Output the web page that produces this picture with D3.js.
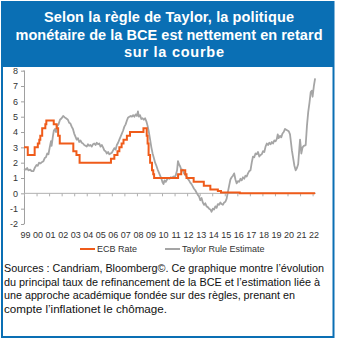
<!DOCTYPE html>
<html><head><meta charset="utf-8">
<script src="https://cdn.jsdelivr.net/npm/d3@7"></script>
<style>
html,body{margin:0;padding:0;background:#fff;}
svg{display:block;font-family:"Liberation Sans",Arial,sans-serif;}
</style></head>
<body>
<svg id="c" width="338" height="343"></svg>
<script>
// ---- data ----
const titleLines = ["Selon la règle de Taylor, la politique","monétaire de la BCE est nettement en retard","sur la courbe"];
const yearTicks = d3.range(1999, 2023);
const yearLabels = ["99","00","01","02","03","04","05","06","07","08","09","10","11","12","13","14","15","16","17","18","19","20","21","22"];
const yTicks = [-2,-1,0,1,2,3,4,5,6,7,8];
const seriesNames = ["ECB Rate","Taylor Rule Estimate"];
// ECB main refinancing rate: [decimal year, rate]
const ecbRate = [
 [1999.0,3.0],[1999.3,2.5],[1999.85,3.0],[2000.1,3.25],[2000.22,3.5],[2000.3,3.75],[2000.45,4.25],[2000.7,4.5],[2000.78,4.75],
 [2001.37,4.5],[2001.6,4.25],[2001.72,3.75],[2001.85,3.25],[2002.93,2.75],[2003.18,2.5],[2003.43,2.0],
 [2005.93,2.25],[2006.2,2.5],[2006.45,2.75],[2006.6,3.0],[2006.78,3.25],[2006.93,3.5],[2007.2,3.75],[2007.45,4.0],
 [2008.52,4.25],[2008.78,3.75],[2008.85,3.25],[2008.93,2.5],[2009.05,2.0],[2009.2,1.5],[2009.3,1.25],[2009.37,1.0],
 [2011.28,1.25],[2011.53,1.5],[2011.85,1.25],[2011.95,1.0],[2012.52,0.75],[2013.33,0.5],[2013.85,0.25],
 [2014.45,0.15],[2014.7,0.05],[2016.2,0.0],[2022.2,0.0]
];
// Taylor rule estimate: [decimal year, rate]
const taylorRule = [
 [1999.0,1.6],[1999.15,1.55],[1999.25,1.65],[1999.35,1.5],[1999.5,1.55],[1999.6,1.45],[1999.75,1.45],[1999.85,1.65],
 [2000.0,1.85],[2000.1,1.8],[2000.2,2.0],[2000.3,1.95],[2000.45,2.05],[2000.55,2.1],[2000.65,2.3],[2000.75,2.35],[2000.85,2.6],[2000.95,2.55],
 [2001.05,3.0],[2001.15,3.4],[2001.2,3.1],[2001.3,3.7],[2001.38,4.1],[2001.47,4.2],[2001.55,4.0],[2001.65,4.4],[2001.75,4.5],[2001.87,4.8],
 [2002.0,4.9],[2002.12,5.05],[2002.25,4.95],[2002.35,4.9],[2002.5,4.8],[2002.6,4.6],[2002.7,4.55],[2002.8,4.35],[2002.9,4.2],
 [2003.0,3.9],[2003.1,3.7],[2003.2,3.5],[2003.3,3.6],[2003.4,3.35],[2003.5,3.45],[2003.6,3.3],[2003.7,3.25],[2003.8,3.15],[2003.9,3.1],
 [2004.0,3.05],[2004.1,3.2],[2004.2,3.1],[2004.3,3.15],[2004.4,3.05],[2004.5,3.2],[2004.6,3.25],[2004.7,3.15],[2004.8,3.3],[2004.9,3.2],
 [2005.0,3.25],[2005.1,3.05],[2005.2,3.15],[2005.3,3.0],[2005.4,2.8],[2005.5,2.75],[2005.6,2.6],[2005.7,2.7],[2005.8,2.55],[2005.9,2.6],
 [2006.0,2.65],[2006.1,2.8],[2006.2,2.95],[2006.3,2.85],[2006.4,3.15],[2006.5,3.3],[2006.6,3.5],[2006.7,3.7],[2006.8,3.9],[2006.9,4.1],
 [2007.0,4.35],[2007.1,4.5],[2007.2,4.75],[2007.3,4.95],[2007.4,5.0],[2007.5,5.05],[2007.6,5.0],[2007.7,5.1],[2007.8,5.0],[2007.9,5.15],
 [2008.0,5.05],[2008.08,5.35],[2008.15,5.0],[2008.25,5.1],[2008.35,4.85],[2008.45,4.9],[2008.55,4.8],[2008.65,4.9],[2008.75,4.7],[2008.85,4.4],[2008.95,4.0],
 [2009.05,3.5],[2009.15,3.0],[2009.25,2.6],[2009.35,2.3],[2009.45,2.0],[2009.55,1.8],[2009.65,1.55],[2009.75,1.35],[2009.85,1.15],[2009.95,0.95],
 [2010.05,0.7],[2010.12,0.6],[2010.2,0.85],[2010.3,0.75],[2010.4,0.9],[2010.5,1.0],[2010.6,0.95],[2010.7,1.05],[2010.8,1.0],[2010.9,1.1],
 [2011.0,1.05],[2011.1,1.2],[2011.2,1.5],[2011.27,2.1],[2011.35,1.9],[2011.45,1.75],[2011.55,1.5],[2011.65,1.55],[2011.75,1.3],[2011.85,1.2],[2011.95,1.1],
 [2012.05,0.95],[2012.15,0.85],[2012.25,0.7],[2012.35,0.6],[2012.45,0.45],[2012.55,0.3],[2012.65,0.2],[2012.75,0.05],[2012.85,-0.1],[2012.95,-0.2],
 [2013.05,-0.45],[2013.15,-0.3],[2013.25,-0.6],[2013.35,-0.75],[2013.45,-0.65],[2013.55,-0.85],[2013.65,-0.9],[2013.75,-1.0],[2013.85,-1.05],[2013.95,-1.2],
 [2014.05,-1.0],[2014.15,-1.05],[2014.25,-0.85],[2014.35,-0.95],[2014.45,-0.7],[2014.55,-0.75],[2014.65,-0.6],[2014.75,-0.7],[2014.85,-0.75],[2014.95,-0.6],
 [2015.05,-0.55],[2015.15,-0.35],[2015.25,0.1],[2015.35,0.5],[2015.45,0.9],[2015.55,1.05],[2015.65,1.15],[2015.75,1.3],[2015.85,0.9],[2015.95,0.65],
 [2016.05,0.8],[2016.15,0.75],[2016.25,0.95],[2016.35,0.85],[2016.45,1.05],[2016.55,0.95],[2016.65,1.15],[2016.75,1.1],[2016.85,1.3],[2016.95,1.45],
 [2017.05,1.5],[2017.15,2.0],[2017.25,2.4],[2017.35,2.35],[2017.45,2.6],[2017.55,2.55],[2017.65,2.7],[2017.75,2.4],[2017.85,2.5],[2017.95,2.55],
 [2018.05,2.75],[2018.15,2.7],[2018.25,3.05],[2018.35,3.25],[2018.45,3.15],[2018.55,3.3],[2018.65,3.2],[2018.75,3.35],[2018.85,3.25],[2018.95,3.45],
 [2019.05,3.4],[2019.15,3.55],[2019.22,3.85],[2019.3,3.6],[2019.4,3.75],[2019.5,3.65],[2019.6,3.9],[2019.7,4.0],[2019.8,4.2],[2019.9,4.15],
 [2020.0,4.1],[2020.1,4.05],[2020.2,3.85],[2020.28,3.3],[2020.35,2.8],[2020.45,2.3],[2020.55,1.8],[2020.65,1.5],[2020.75,1.65],[2020.85,1.9],[2020.95,3.0],
 [2021.0,3.5],[2021.05,3.1],[2021.1,2.6],[2021.2,3.0],[2021.3,3.1],[2021.45,3.15],[2021.55,4.4],[2021.65,5.3],[2021.75,5.9],[2021.85,6.6],[2021.95,6.7],
 [2022.0,6.3],[2022.1,7.0],[2022.2,7.5]
];
const sourceLines = [
 "Sources : Candriam, Bloomberg©. Ce graphique montre l’évolution",
 "du principal taux de refinancement de la BCE et l’estimation liée à",
 "une approche académique fondée sur des règles, prenant en",
 "compte l’inflationet le chômage."
];

// ---- drawing ----
const BLUE = "#0a6fb4", ORANGE = "#ef5b1a", GREY = "#a5a5a5", TXT = "#333";
const svg = d3.select("#c");

svg.append("rect").attr("x",2).attr("y",2).attr("width",331.5).attr("height",335)
  .attr("fill","#fff").attr("stroke",BLUE).attr("stroke-width",2);
svg.append("rect").attr("x",2).attr("y",2).attr("width",331.5).attr("height",65).attr("fill",BLUE);

const titleW = [250, 307, 100];
const titleX = [169, 169, 174];
const titleY = [21.5, 39.5, 56.5];
svg.append("g").selectAll("text").data(titleLines).join("text")
  .attr("x",(d,i)=>titleX[i]).attr("y",(d,i)=>titleY[i]).attr("text-anchor","middle")
  .attr("fill","#fff").attr("font-weight","bold").attr("font-size","14.5px")
  .attr("textLength",(d,i)=>titleW[i]).attr("lengthAdjust","spacing")
  .text(d=>d);

const x = d3.scaleLinear().domain([1999, 2022]).range([24, 312.6]);
const y = d3.scaleLinear().domain([-2, 8]).range([224, 70.7]);

// y axis
const yAxis = svg.append("g").attr("transform","translate(24,0)")
  .call(d3.axisLeft(y).tickValues(yTicks).tickSize(3).tickFormat(d=>String(d)));
yAxis.select(".domain").attr("stroke","#a0a0a0").attr("d",`M-0.5,${y(8)}H0.5V${y(-2)}H-0.5`);
yAxis.selectAll(".tick line").attr("stroke","#a0a0a0");
yAxis.selectAll(".tick text").attr("x",-6).attr("font-size","9px").attr("fill",TXT)
  .attr("font-family","Liberation Sans, Arial, sans-serif");

// x axis line at zero with ticks
const xAxis = svg.append("g").attr("transform",`translate(0,${y(0)})`)
  .call(d3.axisBottom(x).tickValues(yearTicks).tickSize(3).tickFormat(""));
xAxis.select(".domain").attr("stroke","#b0b0b0").attr("d",`M${x(1999)},0H${x(2022.25)}`);
xAxis.selectAll(".tick line").attr("stroke","#b0b0b0");

// x labels at bottom
svg.append("g").selectAll("text").data(yearTicks).join("text")
  .attr("x",d=>x(d)+1.5).attr("y",238).attr("text-anchor","middle")
  .attr("font-size","9px").attr("fill",TXT)
  .text((d,i)=>yearLabels[i]);

// lines
const line = d3.line().x(d=>x(d[0])).y(d=>y(d[1]));
svg.append("path").datum(taylorRule).attr("d",line)
  .attr("fill","none").attr("stroke",GREY).attr("stroke-width",1.8).attr("stroke-linejoin","round");
svg.append("path").datum(ecbRate).attr("d",line.curve(d3.curveStepAfter))
  .attr("fill","none").attr("stroke",ORANGE).attr("stroke-width",2);

// legend
const leg = [{n:seriesNames[0],c:ORANGE,x0:80},{n:seriesNames[1],c:GREY,x0:165}];
const lg = svg.append("g");
leg.forEach(l=>{
  lg.append("line").attr("x1",l.x0).attr("x2",l.x0+15).attr("y1",249).attr("y2",249)
    .attr("stroke",l.c).attr("stroke-width",2);
  lg.append("text").attr("x",l.x0+17).attr("y",252).attr("font-size","9px").attr("fill",TXT).text(l.n);
});

// source text
const srcW = [320, 316, 291, 163];
svg.append("g").selectAll("text").data(sourceLines).join("text")
  .attr("x",4).attr("y",(d,i)=>272+i*13.6)
  .attr("font-size","11px").attr("fill","#111")
  .attr("textLength",(d,i)=>srcW[i]).attr("lengthAdjust","spacingAndGlyphs")
  .text(d=>d);
</script>
</body></html>
